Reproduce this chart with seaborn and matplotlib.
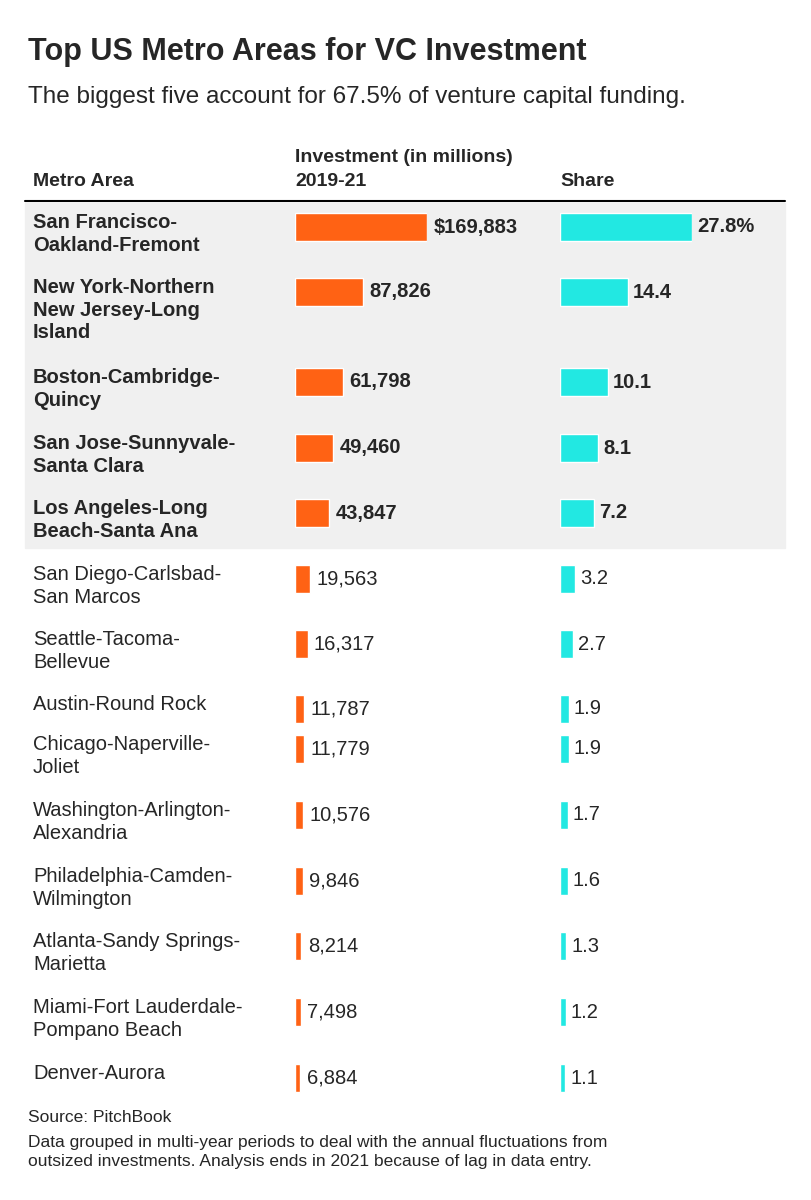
import matplotlib
matplotlib.use("Agg")
import matplotlib.pyplot as plt
import seaborn as sns
import pandas as pd

sns.set_theme(style="white")
plt.rcParams['font.family'] = ['Liberation Sans', 'DejaVu Sans']

metros = ["San Francisco-\nOakland-Fremont", "New York-Northern\nNew Jersey-Long\nIsland",
          "Boston-Cambridge-\nQuincy", "San Jose-Sunnyvale-\nSanta Clara",
          "Los Angeles-Long\nBeach-Santa Ana", "San Diego-Carlsbad-\nSan Marcos",
          "Seattle-Tacoma-\nBellevue", "Austin-Round Rock", "Chicago-Naperville-\nJoliet",
          "Washington-Arlington-\nAlexandria", "Philadelphia-Camden-\nWilmington",
          "Atlanta-Sandy Springs-\nMarietta", "Miami-Fort Lauderdale-\nPompano Beach",
          "Denver-Aurora"]
investment = [169883, 87826, 61798, 49460, 43847, 19563, 16317, 11787, 11779,
              10576, 9846, 8214, 7498, 6884]
share = [27.8, 14.4, 10.1, 8.1, 7.2, 3.2, 2.7, 1.9, 1.9, 1.7, 1.6, 1.3, 1.2, 1.1]
inv_labels = ["$169,883", "87,826", "61,798", "49,460", "43,847", "19,563", "16,317",
              "11,787", "11,779", "10,576", "9,846", "8,214", "7,498", "6,884"]
share_labels = ["27.8%", "14.4", "10.1", "8.1", "7.2", "3.2", "2.7", "1.9", "1.9",
                "1.7", "1.6", "1.3", "1.2", "1.1"]
n_top = 5

# row centres in pixel units (layout)
row_y = [227, 292, 382, 448, 513, 579, 644, 709, 749, 815, 881, 946, 1012, 1078]

df = pd.DataFrame({"metro": metros, "inv": investment, "share": share, "y": row_y})

W, H = 811, 1200
fig = plt.figure(figsize=(W / 100, H / 100), dpi=100)
ax = fig.add_axes([0, 0, 1, 1])
ax.set_xlim(0, W)
ax.set_ylim(H, 0)
ax.axis("off")

# shaded band for the top five
ax.axhspan(203, 548, xmin=25 / W, xmax=785 / W, color="#f0f0f0", zorder=0)
ax.plot([25, 785], [201, 201], color="black", lw=1.5)

ax.text(28, 52, "Top US Metro Areas for VC Investment", fontsize=22, fontweight="bold", va="center")
ax.text(28, 97, "The biggest five account for 67.5% of venture capital funding.", fontsize=17.5, va="center")
ax.text(33, 182, "Metro Area", fontsize=14, fontweight="bold", va="center")
ax.text(295, 158, "Investment (in millions)", fontsize=14, fontweight="bold", va="center")
ax.text(295, 182, "2019-21", fontsize=14, fontweight="bold", va="center")
ax.text(560, 182, "Share", fontsize=14, fontweight="bold", va="center")

for i, r in df.iterrows():
    ax.text(33, r["y"] - 14, r["metro"], fontsize=14.5, va="top", linespacing=1.25,
            fontweight="bold" if i < n_top else "normal")

ax.text(28, 1117, "Source: PitchBook", fontsize=12.5, va="center")
ax.text(28, 1152, "Data grouped in multi-year periods to deal with the annual fluctuations from\n"
        "outsized investments. Analysis ends in 2021 because of lag in data entry.",
        fontsize=12.5, va="center", linespacing=1.3)

def bar_axes(left, values, labels, col, color, xmax, pad):
    bax = fig.add_axes([left / W, 0, 132 / W, 1])
    sns.barplot(data=df, x=col, y="y", orient="h", native_scale=True, color=color,
                width=0.68, saturation=1, ax=bax)
    bax.set_xlim(0, xmax)
    bax.set_ylim(H, 0)
    bax.axis("off")
    bax.patch.set_alpha(0)
    for i, (v, lab) in enumerate(zip(values, labels)):
        bax.annotate(lab, (v, row_y[i]), xytext=(pad, 0), textcoords="offset points",
                     va="center", ha="left", fontsize=14.5, annotation_clip=False,
                     fontweight="bold" if i < n_top else "normal")
    return bax

bar_axes(295, investment, inv_labels, "inv", "#ff6214", investment[0], 4.5)
bar_axes(560, share, share_labels, "share", "#22e8e2", share[0], 3.5)

fig.savefig("out.png", dpi=100)
